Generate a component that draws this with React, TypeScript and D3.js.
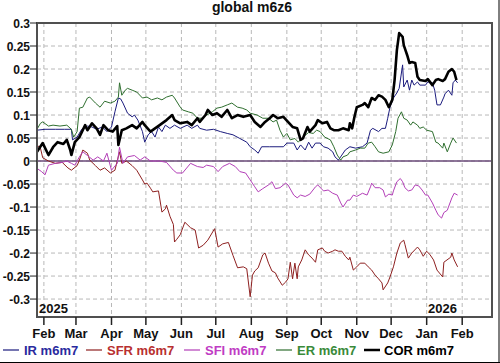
import React from "react";
import * as d3 from "d3";

type Pt = [string, number];

const chartTitle = "global m6z6";
const monthTicks = ["2025-02-01","2025-03-01","2025-04-01","2025-05-01","2025-06-01","2025-07-01","2025-08-01","2025-09-01","2025-10-01","2025-11-01","2025-12-01","2026-01-01","2026-02-01"];
const monthLabels = ["Feb","Mar","Apr","May","Jun","Jul","Aug","Sep","Oct","Nov","Dec","Jan","Feb"];
const yTicks = [-0.3,-0.25,-0.2,-0.15,-0.1,-0.05,0,0.05,0.1,0.15,0.2,0.25,0.3];
const yearLabels = ["2025","2026"];
const seriesNames = ["IR m6m7","SFR m6m7","SFI m6m7","ER m6m7","COR m6m7"];

const irData: Pt[] = [["2025-01-26",.067],["2025-02-02",.069],["2025-02-11",.069],["2025-02-19",.069],["2025-02-25",.069],["2025-02-26",.046],["2025-03-02",.052],["2025-03-06",.069],["2025-03-11",.076],["2025-03-15",.074],["2025-03-19",.069],["2025-03-24",.074],["2025-03-28",.064],["2025-04-01",.074],["2025-04-04",.107],["2025-04-07",.137],["2025-04-09",.135],["2025-04-11",.126],["2025-04-15",.104],["2025-04-19",.096],["2025-04-21",.100],["2025-04-24",.089],["2025-04-28",.064],["2025-04-30",.041],["2025-05-03",.057],["2025-05-06",.064],["2025-05-09",.052],["2025-05-12",.074],["2025-05-15",.064],["2025-05-18",.078],["2025-05-22",.071],["2025-05-26",.078],["2025-05-31",.071],["2025-06-06",.078],["2025-06-10",.071],["2025-06-15",.078],["2025-06-17",.071],["2025-06-23",.067],["2025-06-29",.069],["2025-07-05",.064],["2025-07-11",.060],["2025-07-16",.057],["2025-07-22",.049],["2025-07-28",.041],["2025-07-31",.031],["2025-08-04",.024],["2025-08-07",.017],["2025-08-10",.031],["2025-08-17",.031],["2025-08-29",.031],["2025-09-01",.039],["2025-09-07",.039],["2025-09-10",.024],["2025-09-13",.035],["2025-09-17",.024],["2025-09-20",.041],["2025-09-23",.028],["2025-09-26",.039],["2025-09-30",.039],["2025-10-03",.031],["2025-10-07",.028],["2025-10-11",.020],["2025-10-13",.009],["2025-10-16",.002],["2025-10-19",.013],["2025-10-22",.024],["2025-10-26",.031],["2025-10-31",.028],["2025-11-06",.031],["2025-11-10",.039],["2025-11-13",.067],["2025-11-15",.071],["2025-11-20",.064],["2025-11-23",.071],["2025-11-26",.071],["2025-11-28",.093],["2025-11-30",.117],["2025-12-03",.137],["2025-12-06",.148],["2025-12-08",.158],["2025-12-11",.209],["2025-12-12",.161],["2025-12-15",.176],["2025-12-17",.154],["2025-12-19",.176],["2025-12-21",.165],["2025-12-24",.172],["2025-12-26",.165],["2025-12-31",.165],["2026-01-02",.172],["2026-01-06",.170],["2026-01-08",.154],["2026-01-10",.122],["2026-01-13",.122],["2026-01-16",.139],["2026-01-17",.146],["2026-01-20",.154],["2026-01-23",.143],["2026-01-24",.170],["2026-01-26",.176],["2026-01-28",.170]];

const sfrData: Pt[] = [["2025-01-26",.035],["2025-01-29",.028],["2025-01-31",.007],["2025-02-05",.000],["2025-02-11",-.005],["2025-02-17",-.003],["2025-02-22",-.015],["2025-02-25",-.020],["2025-03-02",-.010],["2025-03-04",.002],["2025-03-07",.024],["2025-03-11",.017],["2025-03-13",.002],["2025-03-18",-.010],["2025-03-22",-.020],["2025-03-26",-.015],["2025-03-31",-.026],["2025-04-04",-.020],["2025-04-08",.020],["2025-04-10",-.005],["2025-04-14",.000],["2025-04-19",-.010],["2025-04-23",-.020],["2025-04-28",-.041],["2025-04-30",-.050],["2025-05-02",-.048],["2025-05-05",-.059],["2025-05-07",-.067],["2025-05-12",-.065],["2025-05-15",-.111],["2025-05-18",-.104],["2025-05-19",-.096],["2025-05-22",-.120],["2025-05-25",-.138],["2025-05-26",-.176],["2025-05-28",-.170],["2025-05-31",-.160],["2025-06-04",-.133],["2025-06-09",-.145],["2025-06-13",-.150],["2025-06-16",-.189],["2025-06-20",-.183],["2025-06-24",-.172],["2025-06-30",-.147],["2025-07-03",-.187],["2025-07-07",-.180],["2025-07-12",-.177],["2025-07-16",-.205],["2025-07-20",-.232],["2025-07-25",-.230],["2025-07-28",-.234],["2025-07-31",-.295],["2025-08-02",-.248],["2025-08-04",-.239],["2025-08-07",-.232],["2025-08-11",-.204],["2025-08-13",-.200],["2025-08-16",-.222],["2025-08-19",-.239],["2025-08-22",-.243],["2025-08-24",-.254],["2025-08-28",-.270],["2025-08-31",-.263],["2025-09-02",-.256],["2025-09-04",-.220],["2025-09-06",-.256],["2025-09-08",-.222],["2025-09-10",-.256],["2025-09-11",-.230],["2025-09-14",-.215],["2025-09-17",-.193],["2025-09-20",-.204],["2025-09-23",-.211],["2025-09-26",-.220],["2025-09-28",-.193],["2025-10-02",-.189],["2025-10-04",-.196],["2025-10-07",-.200],["2025-10-11",-.196],["2025-10-13",-.193],["2025-10-16",-.196],["2025-10-19",-.196],["2025-10-22",-.207],["2025-10-25",-.215],["2025-10-26",-.209],["2025-10-29",-.237],["2025-11-01",-.230],["2025-11-04",-.222],["2025-11-08",-.222],["2025-11-11",-.230],["2025-11-14",-.237],["2025-11-17",-.248],["2025-11-20",-.256],["2025-11-23",-.265],["2025-11-24",-.280],["2025-11-28",-.265],["2025-11-30",-.252],["2025-12-03",-.230],["2025-12-06",-.200],["2025-12-09",-.178],["2025-12-12",-.172],["2025-12-13",-.181],["2025-12-16",-.211],["2025-12-19",-.200],["2025-12-24",-.187],["2025-12-26",-.193],["2025-12-29",-.207],["2026-01-01",-.196],["2026-01-04",-.204],["2026-01-07",-.215],["2026-01-10",-.237],["2026-01-15",-.252],["2026-01-16",-.220],["2026-01-22",-.209],["2026-01-23",-.200],["2026-01-25",-.215],["2026-01-28",-.230]];

const sfiData: Pt[] = [["2025-01-26",-.016],["2025-01-30",-.023],["2025-02-02",-.030],["2025-02-05",-.009],["2025-02-11",-.005],["2025-02-17",-.003],["2025-02-21",.000],["2025-02-25",-.005],["2025-02-28",-.009],["2025-03-04",.009],["2025-03-07",.020],["2025-03-11",.012],["2025-03-16",.002],["2025-03-20",.009],["2025-03-25",.000],["2025-03-28",.017],["2025-04-01",-.020],["2025-04-06",-.005],["2025-04-08",.030],["2025-04-11",-.005],["2025-04-15",.009],["2025-04-21",.012],["2025-04-26",.002],["2025-04-30",.009],["2025-05-05",.000],["2025-05-13",.000],["2025-05-19",-.003],["2025-05-25",-.020],["2025-05-28",-.026],["2025-06-02",-.026],["2025-06-09",-.005],["2025-06-15",-.012],["2025-06-20",-.014],["2025-06-23",-.009],["2025-06-29",-.012],["2025-07-03",-.023],["2025-07-07",-.012],["2025-07-13",-.005],["2025-07-18",-.012],["2025-07-22",-.023],["2025-07-27",-.026],["2025-07-31",-.041],["2025-08-04",-.056],["2025-08-07",-.067],["2025-08-11",-.060],["2025-08-16",-.052],["2025-08-19",-.045],["2025-08-22",-.060],["2025-08-26",-.058],["2025-08-31",-.048],["2025-09-02",-.052],["2025-09-07",-.074],["2025-09-10",-.080],["2025-09-13",-.074],["2025-09-17",-.077],["2025-09-21",-.072],["2025-09-26",-.056],["2025-09-28",-.052],["2025-10-03",-.065],["2025-10-07",-.063],["2025-10-11",-.070],["2025-10-15",-.074],["2025-10-18",-.091],["2025-10-20",-.100],["2025-10-24",-.085],["2025-10-26",-.085],["2025-10-29",-.074],["2025-11-01",-.077],["2025-11-06",-.070],["2025-11-10",-.074],["2025-11-13",-.056],["2025-11-14",-.048],["2025-11-17",-.058],["2025-11-21",-.058],["2025-11-24",-.063],["2025-11-26",-.078],["2025-11-29",-.072],["2025-12-02",-.074],["2025-12-03",-.065],["2025-12-06",-.045],["2025-12-09",-.038],["2025-12-11",-.045],["2025-12-13",-.058],["2025-12-16",-.065],["2025-12-19",-.063],["2025-12-22",-.052],["2025-12-25",-.054],["2025-12-28",-.063],["2025-12-31",-.074],["2026-01-02",-.074],["2026-01-06",-.091],["2026-01-09",-.107],["2026-01-11",-.117],["2026-01-14",-.124],["2026-01-16",-.112],["2026-01-19",-.107],["2026-01-20",-.100],["2026-01-23",-.080],["2026-01-25",-.070],["2026-01-28",-.074]];

const erData: Pt[] = [["2025-01-26",.069],["2025-01-29",.082],["2025-01-31",.085],["2025-02-05",.076],["2025-02-09",.078],["2025-02-15",.076],["2025-02-21",.078],["2025-02-25",.069],["2025-02-27",.052],["2025-03-02",.064],["2025-03-04",.115],["2025-03-07",.117],["2025-03-11",.137],["2025-03-13",.139],["2025-03-18",.126],["2025-03-22",.117],["2025-03-26",.130],["2025-03-31",.126],["2025-04-04",.130],["2025-04-07",.139],["2025-04-08",.170],["2025-04-10",.143],["2025-04-13",.154],["2025-04-15",.158],["2025-04-19",.154],["2025-04-23",.150],["2025-04-28",.137],["2025-05-02",.139],["2025-05-06",.133],["2025-05-11",.137],["2025-05-15",.133],["2025-05-19",.139],["2025-05-24",.143],["2025-05-26",.137],["2025-05-31",.117],["2025-06-02",.111],["2025-06-07",.107],["2025-06-11",.104],["2025-06-15",.093],["2025-06-19",.093],["2025-06-23",.100],["2025-06-28",.107],["2025-07-02",.115],["2025-07-06",.117],["2025-07-11",.122],["2025-07-15",.126],["2025-07-20",.117],["2025-07-24",.115],["2025-07-28",.111],["2025-07-31",.104],["2025-08-06",.100],["2025-08-11",.093],["2025-08-16",.093],["2025-08-20",.085],["2025-08-23",.089],["2025-08-26",.067],["2025-08-29",.052],["2025-09-01",.060],["2025-09-04",.046],["2025-09-08",.049],["2025-09-11",.041],["2025-09-15",.052],["2025-09-20",.062],["2025-09-24",.060],["2025-09-27",.067],["2025-09-30",.064],["2025-10-04",.052],["2025-10-09",.046],["2025-10-12",.031],["2025-10-15",.013],["2025-10-18",.002],["2025-10-20",.009],["2025-10-24",.013],["2025-10-26",.020],["2025-10-31",.024],["2025-11-04",.028],["2025-11-08",.028],["2025-11-11",.039],["2025-11-14",.041],["2025-11-17",.031],["2025-11-20",.020],["2025-11-24",.017],["2025-11-29",.020],["2025-12-02",.035],["2025-12-05",.064],["2025-12-07",.093],["2025-12-10",.107],["2025-12-12",.093],["2025-12-15",.089],["2025-12-18",.078],["2025-12-20",.085],["2025-12-24",.078],["2025-12-26",.071],["2025-12-29",.074],["2026-01-01",.067],["2026-01-06",.064],["2026-01-09",.041],["2026-01-11",.039],["2026-01-15",.028],["2026-01-16",.039],["2026-01-19",.020],["2026-01-22",.039],["2026-01-24",.050],["2026-01-27",.039]];

const corData: Pt[] = [["2025-01-26",.020],["2025-01-31",.039],["2025-02-05",.013],["2025-02-09",.030],["2025-02-13",.041],["2025-02-18",.037],["2025-02-21",.046],["2025-02-24",.024],["2025-02-25",.013],["2025-02-28",.041],["2025-03-04",.052],["2025-03-09",.078],["2025-03-11",.067],["2025-03-15",.082],["2025-03-19",.071],["2025-03-22",.057],["2025-03-25",.078],["2025-03-29",.067],["2025-04-02",.064],["2025-04-06",.076],["2025-04-07",.035],["2025-04-10",.067],["2025-04-14",.071],["2025-04-19",.078],["2025-04-23",.071],["2025-04-28",.085],["2025-04-30",.078],["2025-05-05",.064],["2025-05-09",.071],["2025-05-13",.078],["2025-05-19",.089],["2025-05-24",.100],["2025-05-26",.089],["2025-05-31",.082],["2025-06-06",.085],["2025-06-10",.078],["2025-06-15",.093],["2025-06-17",.085],["2025-06-22",.100],["2025-06-24",.111],["2025-06-28",.100],["2025-07-02",.104],["2025-07-06",.096],["2025-07-11",.111],["2025-07-15",.093],["2025-07-20",.100],["2025-07-25",.096],["2025-07-31",.100],["2025-08-04",.085],["2025-08-09",.074],["2025-08-13",.085],["2025-08-17",.093],["2025-08-20",.100],["2025-08-24",.093],["2025-08-29",.096],["2025-09-02",.085],["2025-09-06",.074],["2025-09-10",.071],["2025-09-13",.046],["2025-09-15",.049],["2025-09-19",.074],["2025-09-21",.064],["2025-09-26",.078],["2025-09-28",.089],["2025-10-02",.082],["2025-10-06",.085],["2025-10-09",.071],["2025-10-12",.067],["2025-10-16",.067],["2025-10-20",.071],["2025-10-25",.067],["2025-10-26",.082],["2025-10-28",.071],["2025-10-30",.096],["2025-11-01",.117],["2025-11-06",.122],["2025-11-08",.126],["2025-11-11",.117],["2025-11-14",.137],["2025-11-17",.133],["2025-11-20",.143],["2025-11-23",.140],["2025-11-26",.133],["2025-11-29",.117],["2025-12-02",.133],["2025-12-04",.176],["2025-12-06",.241],["2025-12-08",.278],["2025-12-11",.270],["2025-12-12",.252],["2025-12-15",.230],["2025-12-17",.213],["2025-12-19",.215],["2025-12-22",.213],["2025-12-24",.183],["2025-12-26",.176],["2025-12-31",.174],["2026-01-02",.178],["2026-01-06",.165],["2026-01-09",.176],["2026-01-11",.178],["2026-01-15",.174],["2026-01-17",.178],["2026-01-20",.194],["2026-01-23",.200],["2026-01-25",.194],["2026-01-27",.176]];

const seriesData = [irData, sfrData, sfiData, erData, corData];
const lineColors = ["#1c1c7e", "#8e2020", "#b33fb8", "#2f6f2f", "#000000"];
const textColors = ["#2a2a9e", "#b83030", "#c03cc4", "#3a8a3a", "#000000"];
const lineWidths = [1, 1, 1, 1, 2.6];

const W = 500, H = 363;
const L = 37, R = 492, T = 23, B = 317;
const FONT = "'Liberation Sans', Arial, sans-serif";

const parse = d3.utcParse("%Y-%m-%d");

export default function App() {
  const x = d3.scaleUtc()
    .domain([parse("2025-01-26")!, parse("2026-02-27")!])
    .range([L, R]);
  const y = d3.scaleLinear().domain([-0.339, 0.3]).range([B, T]);

  const line = d3.line<Pt>()
    .x(d => x(parse(d[0])!))
    .y(d => y(d[1]));

  const fmt = (v: number) => {
    if (Math.abs(v) < 1e-9) return "0";
    return String(+v.toFixed(2));
  };

  const legendX = [3, 86, 184, 276, 364];

  return (
    <svg width={W} height={H} style={{ position: "absolute", left: 0, top: 0, background: "#fff" }}
      fontFamily={FONT}>
      <rect x={0} y={0} width={W} height={H} fill="#fff" />
      <text x={252} y={12} textAnchor="middle" fontWeight="bold" fontSize={14} fill="#111">{chartTitle}</text>

      {/* grid */}
      {yTicks.filter(v => v < 0.29).map(v => (
        <line key={"gy" + v} x1={L} x2={R} y1={y(v)} y2={y(v)} stroke="#b8b8b8" strokeWidth={1} strokeDasharray="4,3" />
      ))}
      {monthTicks.map(m => (
        <line key={"gx" + m} x1={x(parse(m)!)} x2={x(parse(m)!)} y1={T} y2={B} stroke="#b8b8b8" strokeWidth={1} strokeDasharray="4,3" />
      ))}

      {/* zero line */}
      <line x1={L} x2={R} y1={y(0)} y2={y(0)} stroke="#6a4a78" strokeWidth={1.6} />

      {/* series */}
      {seriesData.map((s, i) => (
        <path key={seriesNames[i]} d={line(s)!} fill="none" stroke={lineColors[i]} strokeWidth={lineWidths[i]} strokeLinejoin="round" />
      ))}

      {/* frame */}
      <rect x={L} y={T} width={R - L} height={B - T} fill="none" stroke="#505050" strokeWidth={2} />

      {/* y ticks */}
      {yTicks.map(v => (
        <g key={"yt" + v}>
          <line x1={30} x2={L} y1={y(v)} y2={y(v)} stroke="#222" strokeWidth={1} />
          <text x={30} y={y(v) + 4.5} textAnchor="end" fontSize={12} fontWeight="bold" fill="#111">{fmt(v)}</text>
        </g>
      ))}

      {/* x ticks */}
      {monthTicks.map((m, i) => (
        <g key={"xt" + m + i}>
          <line x1={x(parse(m)!)} x2={x(parse(m)!)} y1={B} y2={B + 8} stroke="#222" strokeWidth={1.5} />
          <text x={x(parse(m)!)} y={338} textAnchor="middle" fontSize={13} fontWeight="bold" fill="#111">{monthLabels[i]}</text>
        </g>
      ))}

      {/* year labels */}
      <text x={39} y={313} fontSize={13} fontWeight="bold" fill="#111">{yearLabels[0]}</text>
      <text x={457} y={313} textAnchor="end" fontSize={13} fontWeight="bold" fill="#111">{yearLabels[1]}</text>

      {/* legend */}
      {seriesNames.map((n, i) => (
        <g key={"lg" + n}>
          <line x1={legendX[i]} x2={legendX[i] + 16} y1={350} y2={350} stroke={lineColors[i]} strokeWidth={i === 4 ? 2.5 : 1.2} />
          <text x={legendX[i] + (i === 4 ? 20 : 21)} y={355} fontSize={13} fontWeight="bold" fill={textColors[i]}>{n}</text>
        </g>
      ))}

      {/* outer edge */}
      <line x1={0} x2={W} y1={H - 0.5} y2={H - 0.5} stroke="#000" strokeWidth={1} />
      <line x1={W - 1} x2={W - 1} y1={0} y2={H} stroke="#000" strokeWidth={1} />
    </svg>
  );
}
